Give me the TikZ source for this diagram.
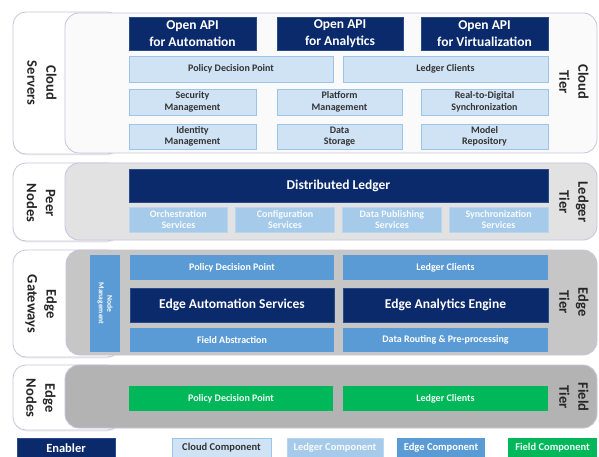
\documentclass[tikz,border=0pt]{standalone}
\usepackage{fontspec}
\setmainfont{Carlito}
\usetikzlibrary{shadows}
\definecolor{navy}{HTML}{0B2A6C}
\definecolor{navyline}{HTML}{2A4A8A}
\definecolor{cloudfill}{HTML}{CFE3F5}
\definecolor{cloudline}{HTML}{9CC4E6}
\definecolor{ledgerfill}{HTML}{A6CAEA}
\definecolor{ledgerline}{HTML}{B8D6F0}
\definecolor{edgefill}{HTML}{5B9BD5}
\definecolor{fieldfill}{HTML}{00B85A}
\definecolor{darktext}{HTML}{333333}
\definecolor{panelline}{HTML}{C9C3DC}
\definecolor{cloudpanel}{HTML}{FAFAFA}
\definecolor{ledgerpanel}{HTML}{E2E2E2}
\definecolor{edgepanel}{HTML}{C6C6C6}
\definecolor{fieldpanel}{HTML}{B3B3B3}
\tikzset{
  box/.style={inner sep=0pt, align=center, font=\bfseries\fontsize{10}{11.5}\selectfont},
  enabler/.style={box, fill=navy, draw=navyline, line width=0.6pt, text=white, font=\bfseries\fontsize{13.5}{16.5}\selectfont},
  cloudc/.style={box, fill=cloudfill, draw=cloudline, line width=0.8pt, text=darktext},
  ledgerc/.style={box, fill=ledgerfill, draw=ledgerline, line width=0.6pt, text=white!92!ledgerfill},
  edgec/.style={box, fill=edgefill, text=white},
  fieldc/.style={box, fill=fieldfill, text=white!95!fieldfill},
  tab/.style={fill=white, draw=panelline, line width=0.8pt, rounded corners=13pt, drop shadow={opacity=0.12, shadow xshift=0.5pt, shadow yshift=-1.5pt}},
  panel/.style={draw=panelline, line width=0.8pt, rounded corners=14pt},
  tierlabel/.style={rotate=-90, align=center, inner sep=0pt, text=black!85, font=\bfseries\fontsize{14.5}{19}\selectfont},
  legend/.style={box, minimum height=20pt, font=\bfseries\fontsize{10.5}{12}\selectfont},
}
\begin{document}
\begin{tikzpicture}[x=1pt, y=-1pt]
\useasboundingbox (0,0) rectangle (599,457);
\fill[white] (0,0) rectangle (599,457);

% ---------- tabs and panels ----------
\draw[tab] (13,12) rectangle (120,154);
\draw[panel, fill=cloudpanel] (65,13) rectangle (597,153);
\draw[tab] (13,163) rectangle (120,241);
\draw[panel, fill=ledgerpanel] (65,163) rectangle (597,240);
\draw[tab] (13,250) rectangle (120,357);
\draw[panel, fill=edgepanel] (66,250) rectangle (597,355);
\draw[tab] (13,365) rectangle (120,430);
\draw[panel, fill=fieldpanel] (65,365) rectangle (597,428);

% ---------- side labels ----------
\node[tierlabel] (lcloud) at (42,83) {Cloud\\Servers};
\node[tierlabel] (lpeer) at (41,203) {Peer\\Nodes};
\node[tierlabel] (lgate) at (41,304) {Edge\\Gateways};
\node[tierlabel] (lenode) at (41,398) {Edge\\Nodes};
\node[tierlabel] (tcloud) at (574,82) {Cloud\\Tier};
\node[tierlabel] (tledger) at (574,202) {Ledger\\Tier};
\node[tierlabel] (tedge) at (574,302) {Edge\\Tier};
\node[tierlabel] (tfield) at (574,397) {Field\\Tier};

% ---------- cloud tier ----------
\node[enabler, minimum width=127pt, minimum height=33pt] (api1) at (192.5,33.5) {Open API\\for Automation};
\node[enabler, minimum width=126pt, minimum height=33pt] (api2) at (340,33.5) {Open API\\for Analytics};
\node[enabler, minimum width=127pt, minimum height=33pt] (api3) at (484.5,33.5) {Open API\\for Virtualization};
\node[cloudc, minimum width=204pt, minimum height=26pt] (cpdp) at (231,69) {Policy Decision Point};
\node[cloudc, minimum width=205pt, minimum height=26pt] (clc) at (445.5,69) {Ledger Clients};
\node[cloudc, minimum width=127pt, minimum height=26pt] (sec) at (192.5,102) {Security\\Management};
\node[cloudc, minimum width=125pt, minimum height=26pt] (plat) at (339.5,102) {Platform\\Management};
\node[cloudc, minimum width=127pt, minimum height=26pt] (r2d) at (484.5,102) {Real-to-Digital\\Synchronization};
\node[cloudc, minimum width=127pt, minimum height=25pt] (idm) at (192.5,136.5) {Identity\\Management};
\node[cloudc, minimum width=125pt, minimum height=25pt] (dst) at (339.5,136.5) {Data\\Storage};
\node[cloudc, minimum width=127pt, minimum height=25pt] (mrep) at (484.5,136.5) {Model\\Repository};

% ---------- ledger tier ----------
\node[enabler, minimum width=419pt, minimum height=33pt] (dl) at (338.5,185.5) {Distributed Ledger};
\node[ledgerc, minimum width=98.75pt, minimum height=25pt] (orch) at (178.4,219.5) {Orchestration\\Services};
\node[ledgerc, minimum width=98.75pt, minimum height=25pt] (conf) at (285.1,219.5) {Configuration\\Services};
\node[ledgerc, minimum width=98.75pt, minimum height=25pt] (dpub) at (391.9,219.5) {Data Publishing\\Services};
\node[ledgerc, minimum width=98.75pt, minimum height=25pt] (sync) at (498.6,219.5) {Synchronization\\Services};

% ---------- edge tier ----------
\node[edgec, minimum width=30pt, minimum height=97pt] (nm) at (105,303.5) {};
\node[rotate=-90, align=center, inner sep=0pt, text=white, font=\bfseries\fontsize{7.5}{8.5}\selectfont] (nmt) at (nm.center) {Node\\Management};
\node[edgec, minimum width=204pt, minimum height=25pt] (epdp) at (232,267.5) {Policy Decision Point};
\node[edgec, minimum width=205pt, minimum height=25pt] (elc) at (445.5,267.5) {Ledger Clients};
\node[enabler, minimum width=204pt, minimum height=34pt] (eas) at (232,305) {Edge Automation Services};
\node[enabler, minimum width=205pt, minimum height=34pt] (eae) at (445.5,305) {Edge Analytics Engine};
\node[edgec, minimum width=204pt, minimum height=24pt] (fabs) at (232,340) {Field Abstraction};
\node[edgec, minimum width=205pt, minimum height=24pt] (drp) at (445.5,340) {Data Routing \& Pre-processing};

% ---------- field tier ----------
\node[fieldc, minimum width=204pt, minimum height=25pt] (fpdp) at (231,398.5) {Policy Decision Point};
\node[fieldc, minimum width=205pt, minimum height=25pt] (flc) at (445.5,398.5) {Ledger Clients};

% ---------- legend ----------
\node[enabler, legend, minimum width=98pt, font=\bfseries\fontsize{12.5}{14}\selectfont] (legen) at (66,448) {Enabler};
\node[cloudc, legend, minimum width=99pt] (legcl) at (221.5,448) {Cloud Component};
\node[ledgerc, legend, minimum width=96pt] (legld) at (335,448) {Ledger Component};
\node[edgec, legend, minimum width=88pt] (legeg) at (441,448) {Edge Component};
\node[fieldc, legend, minimum width=89pt] (legfd) at (552.5,448) {Field Component};
\end{tikzpicture}
\end{document}
